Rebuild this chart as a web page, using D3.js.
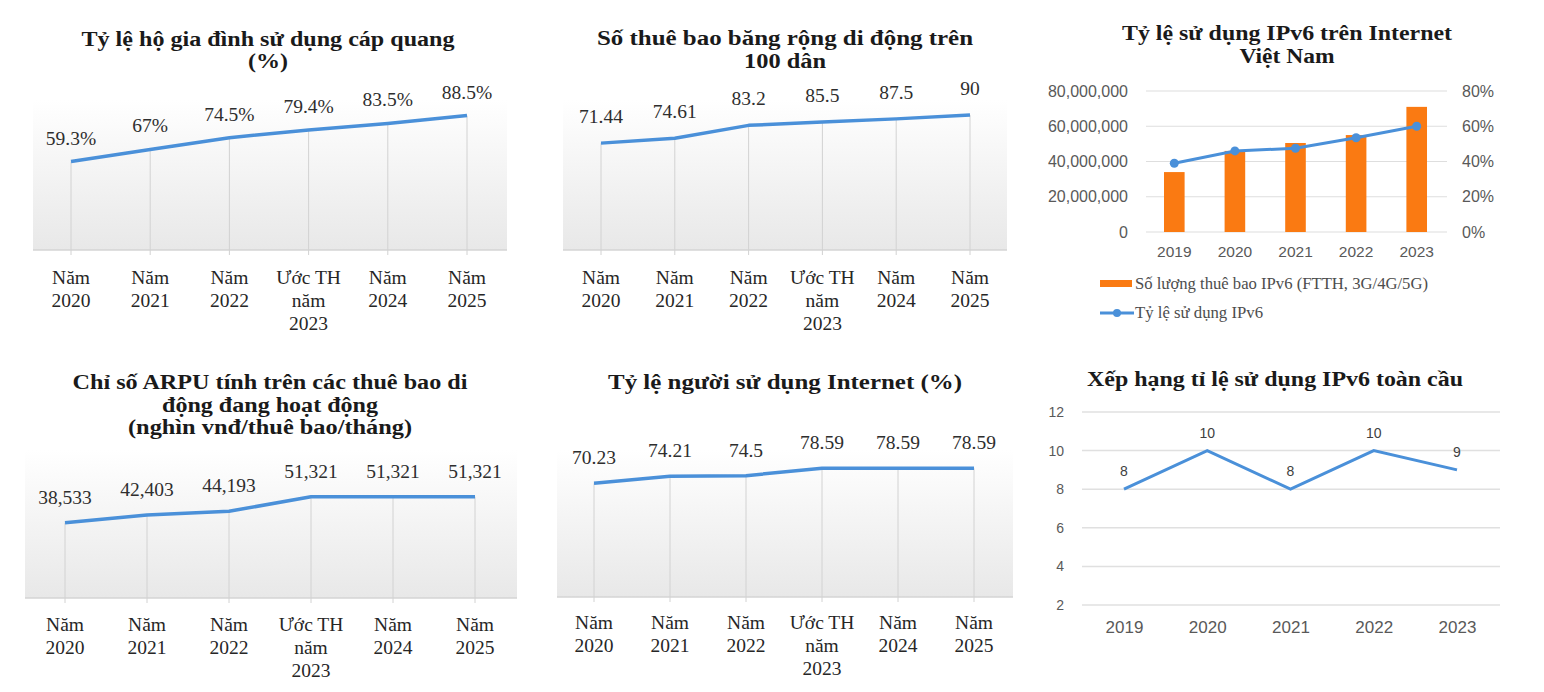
<!DOCTYPE html>
<html>
<head>
<meta charset="utf-8">
<script src="https://cdn.jsdelivr.net/npm/d3@7"></script>
<style>
  body { margin: 0; background: #fff; }
  svg { display: block; }
</style>
</head>
<body>
<svg id="chart" width="1544" height="692"></svg>
<script>
// ---------- DATA ----------
const catsPlan = ["Năm 2020", "Năm 2021", "Năm 2022", "Ước TH năm 2023", "Năm 2024", "Năm 2025"];
const catLines = [["Năm","2020"],["Năm","2021"],["Năm","2022"],["Ước TH","năm","2023"],["Năm","2024"],["Năm","2025"]];

const fiberValues = [59.3, 67, 74.5, 79.4, 83.5, 88.5];
const fiberLabels = ["59.3%", "67%", "74.5%", "79.4%", "83.5%", "88.5%"];

const mobileBBValues = [71.44, 74.61, 83.2, 85.5, 87.5, 90];
const mobileBBLabels = ["71.44", "74.61", "83.2", "85.5", "87.5", "90"];

const arpuValues = [38533, 42403, 44193, 51321, 51321, 51321];
const arpuLabels = ["38,533", "42,403", "44,193", "51,321", "51,321", "51,321"];

const internetValues = [70.23, 74.21, 74.5, 78.59, 78.59, 78.59];
const internetLabels = ["70.23", "74.21", "74.5", "78.59", "78.59", "78.59"];

const ipv6Years = ["2019", "2020", "2021", "2022", "2023"];
const ipv6Subscribers = [34000000, 46000000, 50500000, 55000000, 71000000];
const ipv6Rate = [0.39, 0.46, 0.475, 0.535, 0.60];
const ipv6LeftTicks = [0, 20000000, 40000000, 60000000, 80000000];
const ipv6RightTicks = [0, 0.2, 0.4, 0.6, 0.8];

const rankYears = ["2019", "2020", "2021", "2022", "2023"];
const rankValues = [8, 10, 8, 10, 9];
const rankTicks = [2, 4, 6, 8, 10, 12];

// ---------- DRAW ----------
const svg = d3.select("#chart");
const serif = "'Liberation Serif', 'Times New Roman', serif";
const sans = "'Liberation Sans', Arial, sans-serif";
const blue = "#4a90d9";

const defs = svg.append("defs");
const grad = defs.append("linearGradient").attr("id", "bgGrad")
  .attr("x1", 0).attr("y1", 0).attr("x2", 0).attr("y2", 1);
grad.append("stop").attr("offset", "0%").attr("stop-color", "#ffffff");
grad.append("stop").attr("offset", "100%").attr("stop-color", "#e8e8e8");

// lines: [text, width]
function title(lines, cx, y0, lh) {
  const t = svg.append("text").attr("text-anchor", "middle")
    .attr("font-family", serif).attr("font-weight", "bold").attr("font-size", 20)
    .attr("fill", "#1a1a1a");
  lines.forEach((l, i) => t.append("tspan").attr("x", cx).attr("y", y0 + i * lh)
    .attr("textLength", l[1]).attr("lengthAdjust", "spacingAndGlyphs").text(l[0]));
}

function linePanel(cfg) {
  const g = svg.append("g");
  const x = d3.scalePoint().domain(catsPlan).range([cfg.x0, cfg.x1]);
  const y = d3.scaleLinear().domain(cfg.domain).range(cfg.range);
  g.append("rect").attr("x", cfg.bgX0).attr("y", cfg.bgTop)
    .attr("width", cfg.bgX1 - cfg.bgX0).attr("height", cfg.base - cfg.bgTop)
    .attr("fill", "url(#bgGrad)");
  g.append("line").attr("x1", cfg.bgX0).attr("x2", cfg.bgX1)
    .attr("y1", cfg.base).attr("y2", cfg.base).attr("stroke", "#d4d4d4").attr("stroke-width", 1.5);
  g.selectAll(".drop").data(cfg.values).join("line")
    .attr("x1", (d, i) => x(catsPlan[i])).attr("x2", (d, i) => x(catsPlan[i]))
    .attr("y1", d => y(d)).attr("y2", cfg.base + 5)
    .attr("stroke", "#d2d2d2").attr("stroke-width", 1);
  const line = d3.line().x((d, i) => x(catsPlan[i])).y(d => y(d));
  g.append("path").datum(cfg.values).attr("d", line)
    .attr("fill", "none").attr("stroke", blue).attr("stroke-width", 3.5)
    .attr("stroke-linejoin", "round");
  g.selectAll(".val").data(cfg.values).join("text")
    .attr("x", (d, i) => x(catsPlan[i]))
    .attr("y", d => y(d) - cfg.labOff)
    .attr("text-anchor", "middle").attr("font-family", serif).attr("font-size", 19.5)
    .attr("fill", "#2e2e2e").text((d, i) => cfg.labels[i]);
  catLines.forEach((ls, i) => {
    const t = g.append("text").attr("text-anchor", "middle").attr("font-family", serif)
      .attr("font-size", 19.5).attr("fill", "#262626");
    ls.forEach((l, j) => t.append("tspan").attr("x", x(catsPlan[i])).attr("y", cfg.catY + j * 23).text(l));
  });
}

// Panel 1
title([["Tỷ lệ hộ gia đình sử dụng cáp quang", 373], ["(%)", 40]], 268, 46, 22);
linePanel({ values: fiberValues, labels: fiberLabels, x0: 71, x1: 467,
  domain: [0, 100], range: [255, 97.5], bgX0: 33, bgX1: 507, bgTop: 100, base: 250,
  labOff: 17, catY: 284 });

// Panel 2
title([["Số thuê bao băng rộng di động trên", 376], ["100 dân", 82]], 785, 45, 23);
linePanel({ values: mobileBBValues, labels: mobileBBLabels, x0: 601, x1: 970,
  domain: [0, 100], range: [251, 100], bgX0: 563, bgX1: 1007, bgTop: 100, base: 250,
  labOff: 20, catY: 284 });

// Panel 4
title([["Chỉ số ARPU tính trên các thuê bao di", 395], ["động đang hoạt động", 216], ["(nghìn vnđ/thuê bao/tháng)", 284]], 270, 389, 22.5);
linePanel({ values: arpuValues, labels: arpuLabels, x0: 65, x1: 475,
  domain: [0, 60000], range: [601, 479.2], bgX0: 25, bgX1: 517, bgTop: 450, base: 598,
  labOff: 19, catY: 631 });

// Panel 5
title([["Tỷ lệ người sử dụng Internet (%)", 354]], 785, 389, 22);
linePanel({ values: internetValues, labels: internetLabels, x0: 594, x1: 974,
  domain: [0, 100], range: [609, 430], bgX0: 557, bgX1: 1013, bgTop: 450, base: 597,
  labOff: 19, catY: 629 });

// Panel 3: IPv6 combo
(function () {
  title([["Tỷ lệ sử dụng IPv6 trên Internet", 330], ["Việt Nam", 95]], 1287, 40, 23);
  const g = svg.append("g");
  const x = d3.scaleBand().domain(ipv6Years).range([1144, 1447]).paddingInner(0.66).paddingOuter(0.33);
  const yL = d3.scaleLinear().domain([0, 80000000]).range([232, 91]);
  const yR = d3.scaleLinear().domain([0, 0.8]).range([232, 91]);
  g.selectAll(".grid").data(ipv6LeftTicks).join("line")
    .attr("x1", 1146).attr("x2", 1447).attr("y1", d => yL(d)).attr("y2", d => yL(d))
    .attr("stroke", "#dedede").attr("stroke-width", 1.2);
  const axL = d3.axisLeft(yL).tickValues(ipv6LeftTicks).tickFormat(d3.format(",")).tickSize(0).tickPadding(0);
  const gl = g.append("g").attr("transform", "translate(1128,0)").call(axL);
  gl.select(".domain").remove();
  gl.selectAll("text").attr("font-family", sans).attr("font-size", 16).attr("fill", "#595959");
  const axR = d3.axisRight(yR).tickValues(ipv6RightTicks).tickFormat(d3.format(".0%")).tickSize(0).tickPadding(0);
  const gr = g.append("g").attr("transform", "translate(1462,0)").call(axR);
  gr.select(".domain").remove();
  gr.selectAll("text").attr("font-family", sans).attr("font-size", 16).attr("fill", "#595959");
  g.selectAll(".bar").data(ipv6Subscribers).join("rect")
    .attr("x", (d, i) => x(ipv6Years[i])).attr("width", x.bandwidth())
    .attr("y", d => yL(d)).attr("height", d => yL(0) - yL(d)).attr("fill", "#fa7a12");
  const cx = (i) => x(ipv6Years[i]) + x.bandwidth() / 2;
  g.append("path").datum(ipv6Rate)
    .attr("d", d3.line().x((d, i) => cx(i)).y(d => yR(d)))
    .attr("fill", "none").attr("stroke", blue).attr("stroke-width", 3);
  g.selectAll(".dot").data(ipv6Rate).join("circle")
    .attr("cx", (d, i) => cx(i)).attr("cy", d => yR(d)).attr("r", 4.5).attr("fill", blue);
  const axB = d3.axisBottom(x).tickSize(0).tickPadding(0);
  const gb = g.append("g").attr("transform", "translate(0,246)").call(axB);
  gb.select(".domain").remove();
  gb.selectAll("text").attr("font-family", sans).attr("font-size", 15.5).attr("fill", "#595959");
  g.append("rect").attr("x", 1100).attr("y", 280).attr("width", 32).attr("height", 7).attr("fill", "#fa7a12");
  g.append("text").attr("x", 1135).attr("y", 289).attr("font-family", serif).attr("font-size", 16)
    .attr("fill", "#4d4d4d").attr("textLength", 293).attr("lengthAdjust", "spacingAndGlyphs")
    .text("Số lượng thuê bao IPv6 (FTTH, 3G/4G/5G)");
  g.append("line").attr("x1", 1100).attr("x2", 1134).attr("y1", 313).attr("y2", 313)
    .attr("stroke", blue).attr("stroke-width", 3);
  g.append("circle").attr("cx", 1117).attr("cy", 313).attr("r", 4).attr("fill", blue);
  g.append("text").attr("x", 1135).attr("y", 318).attr("font-family", serif).attr("font-size", 16)
    .attr("fill", "#4d4d4d").attr("textLength", 128).attr("lengthAdjust", "spacingAndGlyphs")
    .text("Tỷ lệ sử dụng IPv6");
})();

// Panel 6: ranking
(function () {
  svg.append("text").attr("x", 1087).attr("y", 386).attr("font-family", serif)
    .attr("font-weight", "bold").attr("font-size", 20).attr("fill", "#1a1a1a")
    .attr("textLength", 376).attr("lengthAdjust", "spacingAndGlyphs")
    .text("Xếp hạng tỉ lệ sử dụng IPv6 toàn cầu");
  const g = svg.append("g");
  const x = d3.scalePoint().domain(rankYears).range([1124, 1457]);
  const y = d3.scaleLinear().domain([2, 12]).range([605, 412]);
  g.selectAll(".grid").data(rankTicks).join("line")
    .attr("x1", 1082).attr("x2", 1500).attr("y1", d => y(d)).attr("y2", d => y(d))
    .attr("stroke", "#e0e0e0").attr("stroke-width", 1.5);
  const axL = d3.axisLeft(y).tickValues(rankTicks).tickSize(0).tickPadding(0);
  const gl = g.append("g").attr("transform", "translate(1064,0)").call(axL);
  gl.select(".domain").remove();
  gl.selectAll("text").attr("font-family", sans).attr("font-size", 14).attr("fill", "#595959");
  g.append("path").datum(rankValues)
    .attr("d", d3.line().x((d, i) => x(rankYears[i])).y(d => y(d)))
    .attr("fill", "none").attr("stroke", blue).attr("stroke-width", 3);
  g.selectAll(".val").data(rankValues).join("text")
    .attr("x", (d, i) => x(rankYears[i])).attr("y", d => y(d) - 13)
    .attr("text-anchor", "middle").attr("font-family", sans).attr("font-size", 14)
    .attr("fill", "#404040").text(d => d);
  const axB = d3.axisBottom(x).tickSize(0).tickPadding(0);
  const gb = g.append("g").attr("transform", "translate(0,621)").call(axB);
  gb.select(".domain").remove();
  gb.selectAll("text").attr("font-family", sans).attr("font-size", 17).attr("fill", "#595959");
})();
</script>
</body>
</html>
